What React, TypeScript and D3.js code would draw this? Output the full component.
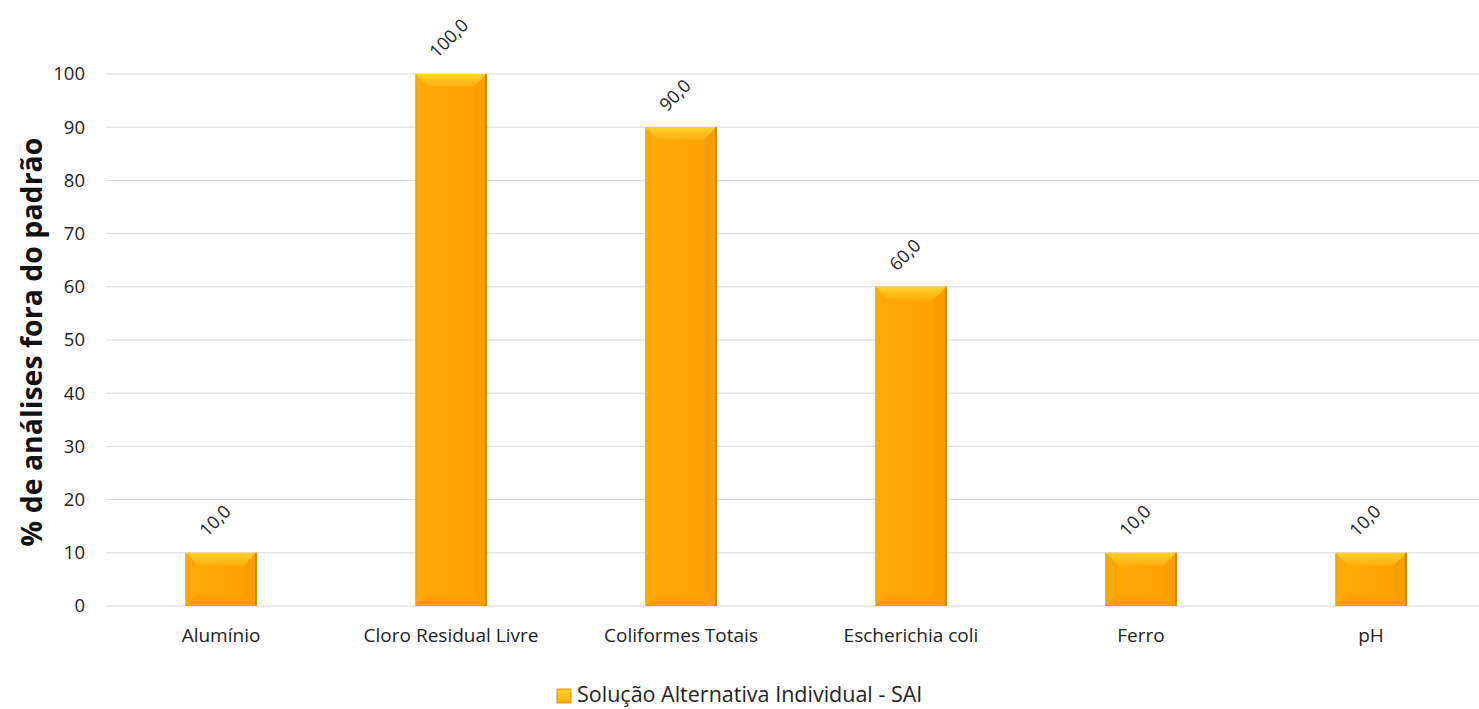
import React from "react";
import * as d3 from "d3";

const categories = ["Alumínio", "Cloro Residual Livre", "Coliformes Totais", "Escherichia coli", "Ferro", "pH"];
const values = [10, 100, 90, 60, 10, 10];
const yTicks = [0, 10, 20, 30, 40, 50, 60, 70, 80, 90, 100];
const seriesName = "Solução Alternativa Individual - SAI";
const yTitle = "% de análises fora do padrão";

const W = 1479;
const H = 709;
const left = 106;
const right = 1486;
const top = 74;
const bottom = 606;
const font = "'Open Sans', 'Noto Sans', sans-serif";

export default function App() {
  const x = d3.scaleBand().domain(categories).range([left, right]).paddingInner(0.69).paddingOuter(0.345);
  const y = d3.scaleLinear().domain([0, 100]).range([bottom, top]);
  const bw = x.bandwidth();
  const bev = 13;

  return (
    <svg width={W} height={H} style={{ position: "absolute", left: 0, top: 0, background: "#fff" }}>
      <defs>
        <linearGradient id="face" x1="0" x2="1" y1="0" y2="0">
          <stop offset="0" stopColor="#FFAA08" />
          <stop offset="1" stopColor="#FFA000" />
        </linearGradient>
        <linearGradient id="topb" x1="0" x2="0" y1="0" y2="1">
          <stop offset="0" stopColor="#FFD22E" />
          <stop offset="1" stopColor="#FFAE0C" />
        </linearGradient>
        <linearGradient id="botb" x1="0" x2="0" y1="0" y2="1">
          <stop offset="0" stopColor="#FFA404" />
          <stop offset="1" stopColor="#F59A00" />
        </linearGradient>
      </defs>
      {yTicks.map((t) => (
        <g key={t}>
          <line x1={left} x2={W} y1={y(t)} y2={y(t)} stroke="#d9d9d9" strokeWidth={1} />
          <text x={85} y={y(t)} dy="0.35em" textAnchor="end" fontFamily={font} fontSize={18.5} fill="#222">
            {t}
          </text>
        </g>
      ))}
      {categories.map((c, i) => {
        const x0 = x(c)!;
        const yt = y(values[i]);
        const yb = y(0);
        const cx = x0 + bw / 2;
        const h = yb - yt;
        const b = Math.min(bev, h / 2);
        return (
          <g key={c}>
            <rect x={x0} y={yt} width={bw} height={h} fill="url(#face)" />
            <polygon points={`${x0},${yt} ${x0 + bw},${yt} ${x0 + bw - b},${yt + b} ${x0 + b},${yt + b}`} fill="url(#topb)" />
            <polygon points={`${x0},${yb} ${x0 + bw},${yb} ${x0 + bw - b},${yb - b} ${x0 + b},${yb - b}`} fill="url(#botb)" />
            <polygon points={`${x0 + bw},${yt} ${x0 + bw - b},${yt + b} ${x0 + bw - b},${yb - b} ${x0 + bw},${yb}`} fill="#FB9C00" />
            <rect x={x0} y={yt} width={1} height={h} fill="#C98A20" opacity={0.5} />
            <rect x={x0 + bw - 1.5} y={yt} width={1.5} height={h} fill="#B87400" opacity={0.8} />
            <text
              transform={`translate(${cx - 14},${yt - 15}) rotate(-45)`}
              fontFamily={font}
              fontSize={18}
              fill="#222"
            >
              {values[i].toFixed(1).replace(".", ",")}
            </text>
            <text x={cx} y={642} textAnchor="middle" fontFamily={font} fontSize={19} fill="#222">
              {c}
            </text>
          </g>
        );
      })}
      <text
        transform={`translate(42,${(top + bottom) / 2 + 2}) rotate(-90)`}
        textAnchor="middle"
        fontFamily={font}
        fontWeight="bold"
        fontSize={28.5}
        fill="#111"
      >
        {yTitle}
      </text>
      <rect x={557} y={689} width={14} height={14} fill="url(#topb)" stroke="#E69500" strokeWidth={1} />
      <text x={577} y={702} fontFamily={font} fontSize={21.5} fill="#222">
        {seriesName}
      </text>
    </svg>
  );
}
